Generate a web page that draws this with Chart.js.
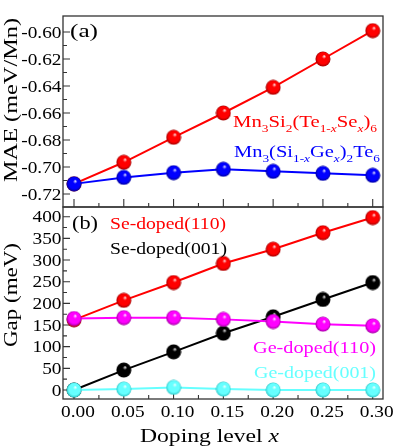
<!DOCTYPE html>
<html>
<head>
<meta charset="utf-8">
<script src="https://cdn.jsdelivr.net/npm/chart.js@4"></script>
<style>
  html, body { margin: 0; padding: 0; background: #fff; }
  #wrap { position: relative; width: 399px; height: 447px; }
  #wrap canvas { position: absolute; left: 0; top: 0; }
</style>
</head>
<body>
<div id="wrap">
  <canvas id="mae" width="399" height="447"></canvas>
  <canvas id="gap" width="399" height="447"></canvas>
</div>
<script>
// Doping level x (shared by both panels)
const doping = [0, 0.05, 0.10, 0.15, 0.20, 0.25, 0.30]

// (a) MAE in meV/Mn
const maeSe = [-0.7125, -0.6965, -0.678, -0.660, -0.641, -0.620, -0.599]
const maeGe = [-0.7125, -0.7077, -0.7042, -0.7017, -0.7032, -0.7047, -0.7062]

// (b) band gap in meV
const gapSe110 = [162, 207, 248, 292, 325, 363, 398]
const gapSe001 = [0, 46, 88, 131, 169, 209, 248]
const gapGe110 = [165, 167, 167, 163, 158, 152, 148]
const gapGe001 = [0, 2, 6, 2, 0, 0, 0]

// tick values and labels
const xTicks = [0, 0.05, 0.10, 0.15, 0.20, 0.25, 0.30]
const xTickLabels = ["0.00", "0.05", "0.10", "0.15", "0.20", "0.25", "0.30"]
const maeTicks = [-0.72, -0.70, -0.68, -0.66, -0.64, -0.62, -0.60]
const maeTickLabels = ["-0.72", "-0.70", "-0.68", "-0.66", "-0.64", "-0.62", "-0.60"]
const gapTicks = [0, 50, 100, 150, 200, 250, 300, 350, 400]
const gapTickLabels = ["0", "50", "100", "150", "200", "250", "300", "350", "400"]

const FONT = '"Liberation Serif", "Times New Roman", serif'
const STRETCH = 1.17

// shaded ball used as point style
function makeBall(color, dark) {
  const r = 7.5
  const c = document.createElement("canvas")
  c.width = 16
  c.height = 16
  const g = c.getContext("2d")
  const grad = g.createRadialGradient(8 + 1.5, 8 - 3, 0, 8, 8, r)
  grad.addColorStop(0, "#ffffff")
  grad.addColorStop(0.28, color)
  grad.addColorStop(0.75, color)
  grad.addColorStop(1, dark)
  g.fillStyle = grad
  g.beginPath()
  g.arc(8, 8, r, 0, Math.PI * 2)
  g.fill()
  return c
}

function series(values, color, dark, order) {
  return {
    data: doping.map((x, i) => ({ x: x, y: values[i] })),
    borderColor: color,
    borderWidth: 2,
    pointStyle: makeBall(color, dark),
    pointRadius: 7.5,
    tension: 0,
    fill: false,
    clip: false,
    order: order,
  }
}

// text drawn with a horizontal stretch to mimic the wide serif of the original
function drawRich(ctx, parts, x, y, o) {
  const size = o.size
  const fontFor = (k) => (k.includes("i") ? "italic " : "") + (k.includes("s") ? Math.round(size * 0.66) : size) + "px " + FONT
  let total = 0
  parts.forEach(([t, k]) => { ctx.font = fontFor(k); total += ctx.measureText(t).width })
  const sx = o.width ? o.width / total : STRETCH
  ctx.save()
  ctx.translate(x, y)
  if (o.rot) ctx.rotate(o.rot)
  ctx.scale(sx, 1)
  ctx.fillStyle = o.color || "#000"
  ctx.textAlign = "left"
  ctx.textBaseline = "alphabetic"
  let cx = o.align === "right" ? -total : o.align === "center" ? -total / 2 : 0
  parts.forEach(([t, k]) => {
    ctx.font = fontFor(k)
    ctx.fillText(t, cx, k.includes("s") ? size * 0.28 : 0)
    cx += ctx.measureText(t).width
  })
  ctx.restore()
}

function midpoints(arr) {
  const out = []
  for (let i = 0; i < arr.length - 1; i++) out.push((arr[i] + arr[i + 1]) / 2)
  return out
}

// frame + inward ticks + tick labels
const framePlugin = {
  id: "frame",
  beforeDatasetsDraw(chart, args, opts) {
    const ctx = chart.ctx
    const a = chart.chartArea
    const xs = chart.scales.x
    const ys = chart.scales.y
    ctx.save()
    ctx.strokeStyle = "#333"
    ctx.lineWidth = 1.3
    ctx.strokeRect(a.left, a.top, a.right - a.left, a.bottom - a.top)
    ctx.lineWidth = 1.1
    ctx.beginPath()
    xTicks.forEach((v) => { const p = xs.getPixelForValue(v); ctx.moveTo(p, a.bottom); ctx.lineTo(p, a.bottom - 8) })
    midpoints(xTicks).forEach((v) => { const p = xs.getPixelForValue(v); ctx.moveTo(p, a.bottom); ctx.lineTo(p, a.bottom - 4) })
    opts.yTicks.forEach((v) => { const p = ys.getPixelForValue(v); ctx.moveTo(a.left, p); ctx.lineTo(a.left + 7, p) })
    midpoints(opts.yTicks).forEach((v) => { const p = ys.getPixelForValue(v); ctx.moveTo(a.left, p); ctx.lineTo(a.left + 4, p) })
    ctx.stroke()
    ctx.restore()

    opts.yTicks.forEach((v, i) => {
      drawRich(ctx, [[opts.yLabels[i], ""]], a.left - 1.5, ys.getPixelForValue(v) + 5.6, { size: 16.5, align: "right" })
    })
    if (opts.xLabels) {
      xTicks.forEach((v, i) => {
        drawRich(ctx, [[xTickLabels[i], ""]], xs.getPixelForValue(v) + 4, 417, { size: 16.5, align: "center" })
      })
    }
  },
  afterDraw(chart, args, opts) {
    opts.texts.forEach((t) => drawRich(chart.ctx, t.parts, t.x, t.y, t))
  },
}

function panel(id, datasets, pad, yMin, yMax, frameOpts) {
  return new Chart(document.getElementById(id), {
    type: "line",
    data: { datasets: datasets },
    options: {
      responsive: false,
      animation: false,
      layout: { padding: pad },
      plugins: { legend: { display: false }, tooltip: { enabled: false }, frame: frameOpts },
      scales: {
        x: { type: "linear", min: -0.01105, max: 0.31034, display: false },
        y: { type: "linear", min: yMin, max: yMax, display: false },
      },
    },
    plugins: [framePlugin],
  })
}

// (a) MAE panel
panel("mae",
  [series(maeSe, "#ff0000", "#a00000", 2), series(maeGe, "#0000ff", "#00009a", 1)],
  { left: 63, right: 16, top: 16, bottom: 240 },
  -0.72963, -0.58815,
  {
    yTicks: maeTicks, yLabels: maeTickLabels, xLabels: false,
    texts: [
      { parts: [["(a)", ""]], x: 70, y: 37, size: 18, width: 28 },
      { parts: [["Mn", ""], ["3", "s"], ["Si", ""], ["2", "s"], ["(Te", ""], ["1-", "s"], ["x", "si"], ["Se", ""], ["x", "si"], [")", ""], ["6", "s"]],
        x: 233, y: 127, size: 17, width: 144, color: "#ff0000" },
      { parts: [["Mn", ""], ["3", "s"], ["(Si", ""], ["1-", "s"], ["x", "si"], ["Ge", ""], ["x", "si"], [")", ""], ["2", "s"], ["Te", ""], ["6", "s"]],
        x: 234, y: 157, size: 17, width: 146, color: "#0000ff" },
      { parts: [["MAE (meV/Mn)", ""]], x: 17, y: 182, size: 19.5, width: 164, rot: -Math.PI / 2 },
    ],
  })

// (b) band gap panel
panel("gap",
  [
    series(gapSe110, "#ff0000", "#a00000", 4),
    series(gapSe001, "#000000", "#000000", 3),
    series(gapGe110, "#ff00ff", "#a000a0", 2),
    series(gapGe001, "#66ffff", "#30c8c8", 1),
  ],
  { left: 63, right: 16, top: 207, bottom: 48 },
  -20.8, 422.4,
  {
    yTicks: gapTicks, yLabels: gapTickLabels, xLabels: true,
    texts: [
      { parts: [["(b)", ""]], x: 72, y: 229, size: 18, width: 26 },
      { parts: [["Se-doped(110)", ""]], x: 110, y: 229, size: 16.5, width: 116, color: "#ff0000" },
      { parts: [["Se-doped(001)", ""]], x: 110, y: 254, size: 16.5, width: 117, color: "#000000" },
      { parts: [["Ge-doped(110)", ""]], x: 253, y: 353, size: 16.5, width: 123, color: "#ff00ff" },
      { parts: [["Ge-doped(001)", ""]], x: 254, y: 378, size: 16.5, width: 122, color: "#66ffff" },
      { parts: [["Gap (meV)", ""]], x: 17, y: 347, size: 19.5, width: 104, rot: -Math.PI / 2 },
      { parts: [["Doping level ", ""], ["x", "i"]], x: 140, y: 442, size: 19, width: 139 },
    ],
  })
</script>
</body>
</html>
